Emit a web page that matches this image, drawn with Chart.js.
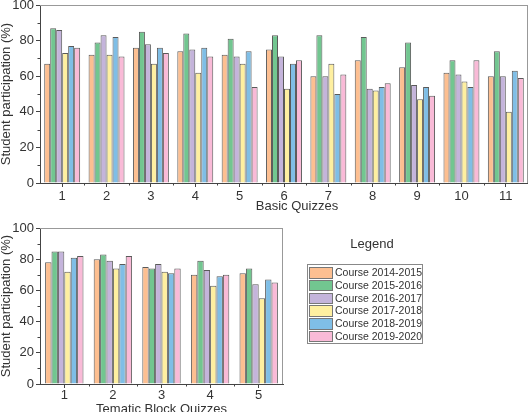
<!DOCTYPE html>
<html>
<head>
<meta charset="utf-8">
<script src="https://cdn.jsdelivr.net/npm/chart.js@4.4.0/dist/chart.umd.min.js"></script>
<style>
html, body { margin: 0; padding: 0; background: #fff; width: 528px; height: 412px; overflow: hidden;
  font-family: "Liberation Sans", Arial, sans-serif; color: #333; }
#top { position: absolute; left: 0; top: 0; width: 528px; height: 215px; }
#bottom { position: absolute; left: 0; top: 215px; width: 300px; height: 205px; }
#basicTitle { position: absolute; left: 217px; width: 160px; top: 198px; text-align: center; font-size: 13px; line-height: 15px; }
#legendTitle { position: absolute; left: 322px; width: 100px; top: 236px; text-align: center; font-size: 13px; line-height: 16px; }
#legend { position: absolute; left: 307px; top: 264px; width: 114px; height: 77px; border: 1px solid #888; padding-top: 1px; }
.row { height: 12.8px; position: relative; }
.sw { position: absolute; left: 1px; top: 1px; width: 22px; height: 9.5px; border: 1px solid #777; }
.lb { position: absolute; left: 27px; top: 0; font-size: 10.5px; line-height: 12.8px; white-space: nowrap; }
</style>
</head>
<body>
<div id="top"><canvas id="basicChart" width="528" height="215"></canvas></div>
<div id="basicTitle">Basic Quizzes</div>
<div id="bottom"><canvas id="tematicChart" width="300" height="205"></canvas></div>
<div id="legendTitle">Legend</div>
<div id="legend"></div>
<script>
var courses = ['Course 2014-2015', 'Course 2015-2016', 'Course 2016-2017', 'Course 2017-2018', 'Course 2018-2019', 'Course 2019-2020'];

var basicLabels = ['1', '2', '3', '4', '5', '6', '7', '8', '9', '10', '11'];
var basic1415 = [67, 72, 76, 74, 72, 75, 60, 69, 65, 62, 60];
var basic1516 = [87, 79, 85, 84, 81, 83, 83, 82, 79, 69, 74];
var basic1617 = [86, 83, 78, 75, 71, 71, 60, 53, 55, 61, 60];
var basic1718 = [73, 72, 67, 62, 67, 53, 67, 52, 47, 57, 40];
var basic1819 = [77, 82, 76, 76, 74, 67, 50, 54, 54, 54, 63];
var basic1920 = [76, 71, 73, 71, 54, 69, 61, 56, 49, 69, 59];

var tematicLabels = ['1', '2', '3', '4', '5'];
var tematic1415 = [78, 80, 75, 70, 71];
var tematic1516 = [85, 83, 74, 79, 74];
var tematic1617 = [85, 79, 77, 73, 64];
var tematic1718 = [72, 74, 72, 63, 55];
var tematic1819 = [81, 77, 71, 69, 67];
var tematic1920 = [82, 82, 74, 70, 65];

var yMin = 0, yMax = 100, yStep = 20;

var colors = ['#fdbf91', '#72c690', '#c4b4db', '#feefa0', '#7fbee6', '#f9bad7'];

Chart.defaults.font.family = '"Liberation Sans", Arial, sans-serif';
Chart.defaults.color = '#333';

// top/right frame lines and minor ticks, like the origin style plot
var frame = {
    id: 'frame',
    afterDraw: function (chart) {
        var ctx = chart.ctx, a = chart.chartArea;
        var x = chart.scales.x, y = chart.scales.y;
        ctx.save();
        ctx.lineWidth = 1;
        ctx.strokeStyle = '#999';
        ctx.beginPath();
        ctx.moveTo(a.left, a.top + 0.5); ctx.lineTo(a.right, a.top + 0.5);
        ctx.moveTo(a.right - 0.5, a.top); ctx.lineTo(a.right - 0.5, a.bottom);
        ctx.stroke();
        ctx.strokeStyle = '#444';
        ctx.beginPath();
        for (var v = yMin + yStep / 2; v < yMax; v += yStep) {
            var py = Math.round(y.getPixelForValue(v)) + 0.5;
            ctx.moveTo(a.left - 2.5, py); ctx.lineTo(a.left, py);
        }
        for (var i = 1; i < x.ticks.length; i++) {
            var px = Math.round(x.getPixelForValue(i - 0.5)) + 0.5;
            ctx.moveTo(px, a.bottom); ctx.lineTo(px, a.bottom + 2.5);
        }
        ctx.stroke();
        ctx.restore();
    }
};

var makeDatasets = function (series, catPct) {
    return series.map(function (values, i) {
        return {
            label: courses[i],
            data: values,
            backgroundColor: colors[i],
            borderColor: '#5a5a5a',
            borderWidth: 1,
            barPercentage: 1,
            categoryPercentage: catPct
        };
    });
};

var makeOptions = function (xTitle, xHeight, padding, labelPad) {
    return {
        responsive: false,
        animation: false,
        devicePixelRatio: 1,
        layout: { padding: padding },
        plugins: { legend: { display: false }, tooltip: { enabled: false } },
        scales: {
            x: {
                offset: true,
                grid: { offset: false, drawOnChartArea: false, drawTicks: true, tickLength: 4, color: '#444' },
                border: { display: true, color: '#444' },
                ticks: { font: { size: 13 }, color: '#333', padding: labelPad, maxRotation: 0 },
                title: { display: xTitle !== '', text: xTitle, font: { size: 13 }, color: '#333', padding: { top: 0, bottom: 3 } },
                afterFit: function (scale) {
                    scale.height = xHeight;
                    scale.paddingLeft = 0; scale.paddingRight = 0;
                }
            },
            y: {
                min: yMin,
                max: yMax,
                grid: { drawOnChartArea: false, drawTicks: true, tickLength: 4, color: '#444' },
                border: { display: true, color: '#444' },
                ticks: { stepSize: yStep, font: { size: 13 }, color: '#333', padding: 2 },
                title: { display: true, text: 'Student participation (%)', font: { size: 13, lineHeight: 1 }, color: '#333', padding: 0 },
                afterFit: function (scale) {
                    scale.width = 40;
                    scale.paddingTop = 0; scale.paddingBottom = 0;
                }
            }
        }
    };
};

new Chart(document.getElementById('basicChart'), {
    type: 'bar',
    data: {
        labels: basicLabels,
        datasets: makeDatasets([basic1415, basic1516, basic1617, basic1718, basic1819, basic1920], 0.81)
    },
    options: makeOptions('', 32, { top: 5, right: 0, left: 0, bottom: 0 }, 2),
    plugins: [frame]
});

new Chart(document.getElementById('tematicChart'), {
    type: 'bar',
    data: {
        labels: tematicLabels,
        datasets: makeDatasets([tematic1415, tematic1516, tematic1617, tematic1718, tematic1819, tematic1920], 0.79)
    },
    options: makeOptions('Tematic Block Quizzes', 36, { top: 13, right: 17, left: 0, bottom: 0 }, 0),
    plugins: [frame]
});

// legend box
var legend = document.getElementById('legend');
courses.forEach(function (name, i) {
    var row = document.createElement('div');
    row.className = 'row';
    row.innerHTML = '<span class="sw" style="background:' + colors[i] + '"></span><span class="lb">' + name + '</span>';
    legend.appendChild(row);
});
</script>
</body>
</html>
